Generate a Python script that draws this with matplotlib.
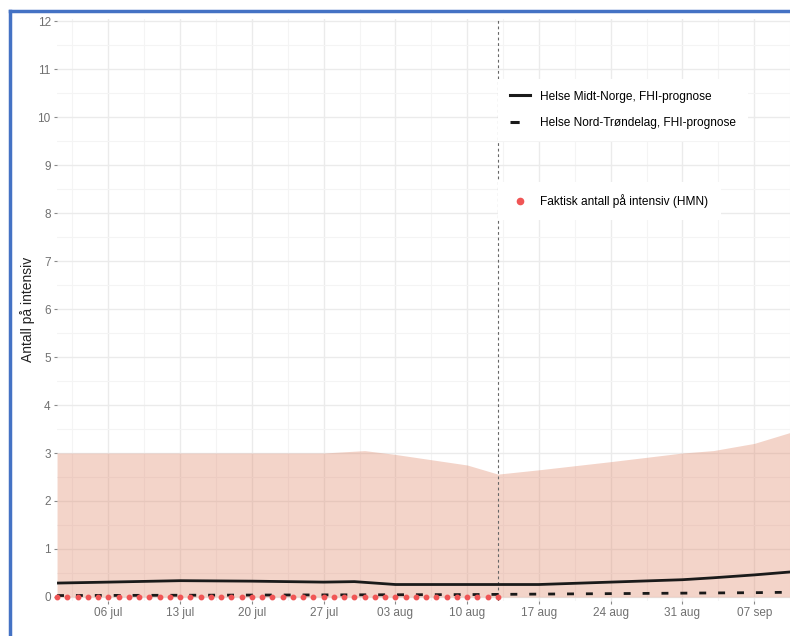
import matplotlib
matplotlib.use("Agg")
import matplotlib.pyplot as plt
import matplotlib.dates as mdates
from matplotlib.lines import Line2D
import numpy as np
import pandas as pd

plt.rcParams["font.family"] = ["Liberation Sans", "DejaVu Sans"]

# forecast band / lines
band_dates = pd.to_datetime([
    "2020-07-01", "2020-07-10", "2020-07-20", "2020-07-27", "2020-07-31",
    "2020-08-03", "2020-08-10", "2020-08-13", "2020-08-17", "2020-08-24",
    "2020-08-31", "2020-09-03", "2020-09-07", "2020-09-11",
])
band_upper = [3.0, 3.0, 3.0, 3.0, 3.05, 2.97, 2.75, 2.56, 2.65, 2.82, 3.0, 3.05, 3.2, 3.46]
band_lower = [0, 0, 0, 0, 0, 0, 0, 0, 0, 0, 0, 0, 0, 0]

hmn_dates = pd.to_datetime([
    "2020-07-01", "2020-07-06", "2020-07-13", "2020-07-20", "2020-07-27",
    "2020-07-30", "2020-08-03", "2020-08-10", "2020-08-17", "2020-08-24",
    "2020-08-31", "2020-09-03", "2020-09-07", "2020-09-11",
])
hmn_pred = [0.29, 0.31, 0.34, 0.33, 0.31, 0.32, 0.26, 0.26, 0.26, 0.31, 0.36, 0.40, 0.46, 0.53]

hnt_dates = pd.to_datetime(["2020-07-01", "2020-07-20", "2020-08-10", "2020-08-24", "2020-09-07", "2020-09-11"])
hnt_pred = [0.03, 0.04, 0.05, 0.07, 0.09, 0.10]

obs_dates = pd.date_range("2020-07-01", "2020-08-13", freq="D")
obs_counts = [0, 0, 0, 0, 0, 0, 0, 0, 0, 0, 0, 0, 0, 0, 0, 0, 0, 0, 0, 0, 0, 0,
              0, 0, 0, 0, 0, 0, 0, 0, 0, 0, 0, 0, 0, 0, 0, 0, 0, 0, 0, 0, 0, 0]

today = pd.Timestamp("2020-08-13")
x_ticks = pd.date_range("2020-07-06", "2020-09-07", freq="7D")
x_minor = pd.date_range("2020-07-02 12:00", "2020-09-10 12:00", freq="7D")

fig = plt.figure(figsize=(7.9, 6.36), dpi=100)
ax = fig.add_axes([0.0722, 0.0553, 0.928, 0.9154])

ax.fill_between(band_dates, band_lower, band_upper, color="#DF8465", alpha=0.35, lw=0, zorder=2)
ax.plot(hmn_dates, hmn_pred, color="#1a1a1a", lw=2.0, zorder=4, solid_capstyle="butt")
ax.plot(hnt_dates, hnt_pred, color="#1a1a1a", lw=2.0, ls=(0, (2.5, 4.3)), zorder=4)
ax.plot(obs_dates, obs_counts, ls="none", marker="o", ms=3.2, color="#F05555",
        zorder=5, clip_on=False)
ax.axvline(today, color="#666666", lw=0.8, ls=(0, (2.5, 2.5)), zorder=3)

ax.set_xlim(pd.Timestamp("2020-07-01"), pd.Timestamp("2020-09-10 08:00"))
ax.set_ylim(-0.08, 12.05)
ax.set_yticks(range(0, 13))
ax.set_yticks(np.arange(0.5, 12, 1), minor=True)
ax.set_xticks(x_ticks)
ax.set_xticks(x_minor, minor=True)
ax.xaxis.set_major_formatter(mdates.DateFormatter("%d %b"))
ax.set_xticklabels([d.strftime("%d ") + d.strftime("%b").lower() for d in x_ticks])

ax.grid(True, which="major", color="#EBEBEB", lw=1.0, zorder=0)
ax.grid(True, which="minor", color="#F4F4F4", lw=0.8, zorder=0)
ax.set_axisbelow(True)
for s in ax.spines.values():
    s.set_visible(False)
ax.tick_params(axis="both", which="major", labelsize=8.5, labelcolor="#707070",
               color="#8a8a8a", length=2.5, width=0.8, pad=2)
ax.tick_params(axis="both", which="minor", length=0)
ax.set_ylabel("Antall på intensiv", fontsize=10, color="#222222", labelpad=2)

h1 = [Line2D([], [], color="#1a1a1a", lw=2.2),
      Line2D([], [], color="#1a1a1a", lw=2.2, ls=(0, (3.0, 10)))]
leg1 = ax.legend(h1, ["Helse Midt-Norge, FHI-prognose", "Helse Nord-Trøndelag, FHI-prognose"],
                 loc="upper left", bbox_to_anchor=(0.6016, 0.897), frameon=True,
                 facecolor="white", edgecolor="none", framealpha=1, fancybox=False,
                 fontsize=8.6, handlelength=1.7, handletextpad=0.85, labelspacing=1.2,
                 borderpad=1.0, borderaxespad=0)
ax.add_artist(leg1)
h2 = [Line2D([], [], ls="none", marker="o", ms=4.5, color="#F05555")]
ax.legend(h2, ["Faktisk antall på intensiv (HMN)"], loc="upper left",
          bbox_to_anchor=(0.6016, 0.719), frameon=True, facecolor="white",
          edgecolor="none", framealpha=1, fancybox=False, fontsize=8.6,
          handlelength=1.7, handletextpad=0.85, borderpad=1.0, borderaxespad=0)

# blue frame at top and left of the screenshot
fig.add_artist(Line2D([10 / 790, 1.0], [1 - 11 / 636, 1 - 11 / 636], color="#4472C4", lw=2.5))
fig.add_artist(Line2D([10 / 790, 10 / 790], [0, 1 - 11 / 636], color="#4472C4", lw=2.5))

fig.savefig("out.png", dpi=100)
